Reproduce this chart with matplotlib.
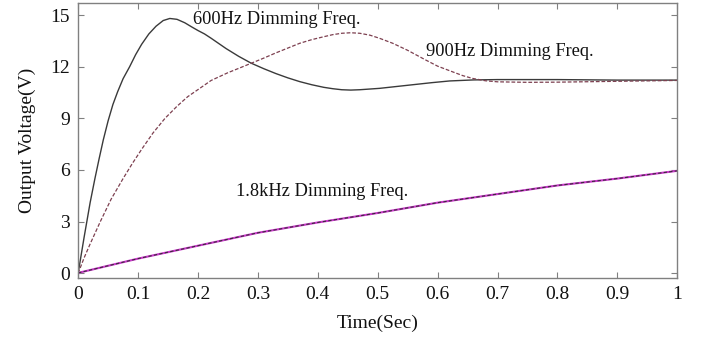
import matplotlib
matplotlib.use('Agg')
import matplotlib.pyplot as plt

# step responses for three dimming frequencies
t600 = [0, 0.005, 0.01, 0.015, 0.02, 0.028, 0.035, 0.042, 0.05, 0.058, 0.066, 0.075, 0.086,
        0.096, 0.106, 0.118, 0.13, 0.142, 0.153, 0.165, 0.178, 0.19, 0.2, 0.211, 0.222,
        0.247, 0.268, 0.289, 0.31, 0.33, 0.35, 0.37, 0.39, 0.41, 0.425, 0.44, 0.455, 0.47,
        0.503, 0.553, 0.59, 0.62, 0.66, 0.7, 0.8, 0.9, 1.0]
v600 = [0, 1.05, 2.1, 3.1, 4.1, 5.5, 6.65, 7.75, 8.85, 9.8, 10.55, 11.3, 12.0,
        12.7, 13.3, 13.9, 14.35, 14.68, 14.8, 14.75, 14.55, 14.3, 14.1, 13.9, 13.65,
        13.05, 12.6, 12.2, 11.88, 11.6, 11.35, 11.13, 10.95, 10.8, 10.72, 10.66, 10.64, 10.66,
        10.74, 10.93, 11.07, 11.17, 11.23, 11.25, 11.25, 11.22, 11.22]

t900 = [0, 0.01, 0.02, 0.037, 0.055, 0.075, 0.09, 0.106, 0.125, 0.145, 0.165, 0.183, 0.203,
        0.222, 0.25, 0.27, 0.289, 0.31, 0.33, 0.35, 0.37, 0.39, 0.41, 0.425, 0.44, 0.455, 0.47,
        0.487, 0.503, 0.525, 0.55, 0.58, 0.6, 0.625, 0.642, 0.658, 0.68, 0.7, 0.75, 0.8, 0.9, 1.0]
v900 = [0, 0.9, 1.7, 3.0, 4.3, 5.5, 6.35, 7.2, 8.15, 9.0, 9.7, 10.26, 10.74,
        11.2, 11.65, 11.93, 12.2, 12.5, 12.8, 13.08, 13.36, 13.57, 13.74, 13.86, 13.94, 13.97, 13.94,
        13.83, 13.65, 13.36, 12.95, 12.39, 12.03, 11.7, 11.48, 11.32, 11.18, 11.12, 11.09, 11.1, 11.15, 11.2]

t1800 = [0, 0.1, 0.2, 0.3, 0.4, 0.5, 0.6, 0.7, 0.8, 0.9, 1.0]
v1800 = [0.02, 0.85, 1.6, 2.35, 2.95, 3.5, 4.1, 4.6, 5.1, 5.5, 5.95]

labels = ['600Hz Dimming Freq.', '900Hz Dimming Freq.', '1.8kHz Dimming Freq.']
label_pos = [(0.191, 14.75), (0.581, 12.9), (0.264, 4.75)]

xticks = [0, 0.1, 0.2, 0.3, 0.4, 0.5, 0.6, 0.7, 0.8, 0.9, 1]
xticklabels = ['0', '0.1', '0.2', '0.3', '0.4', '0.5', '0.6', '0.7', '0.8', '0.9', '1']
yticks = [0, 3, 6, 9, 12, 15]

plt.rcParams['font.family'] = ['Liberation Serif', 'DejaVu Serif']

fig = plt.figure(figsize=(7.04, 3.5), dpi=100)
ax = fig.add_axes([0.111, 0.206, 0.851, 0.786])

ax.plot(t600, v600, color='#3a3a3a', lw=1.0)
ax.plot(t900, v900, color='#7d4050', lw=0.9, dashes=(3, 1.5))
ax.plot(t1800, v1800, color='#c838c8', lw=1.5)
ax.plot(t1800, v1800, color='#3a2a3a', lw=0.8, dashes=(3, 2))

for txt, (x, y) in zip(labels, label_pos):
    ax.text(x, y, txt, fontsize=13.2, va='center', ha='left', color='#111111')

ax.set_xlim(0, 1)
ax.set_ylim(-0.27, 15.71)
ax.set_xticks(xticks)
ax.set_xticklabels(xticklabels)
ax.set_yticks(yticks)
ax.tick_params(direction='in', length=4, width=0.8, color='#808080',
               labelsize=14, top=True, right=True, pad=6, labelcolor='#111111')
for s in ax.spines.values():
    s.set_color('#808080')
    s.set_linewidth(1.0)

ax.set_xlabel('Time(Sec)', fontsize=14, labelpad=8, color='#111111')
ax.set_ylabel('Output Voltage(V)', fontsize=14, labelpad=10, color='#111111')

fig.savefig('out.png', dpi=100)
